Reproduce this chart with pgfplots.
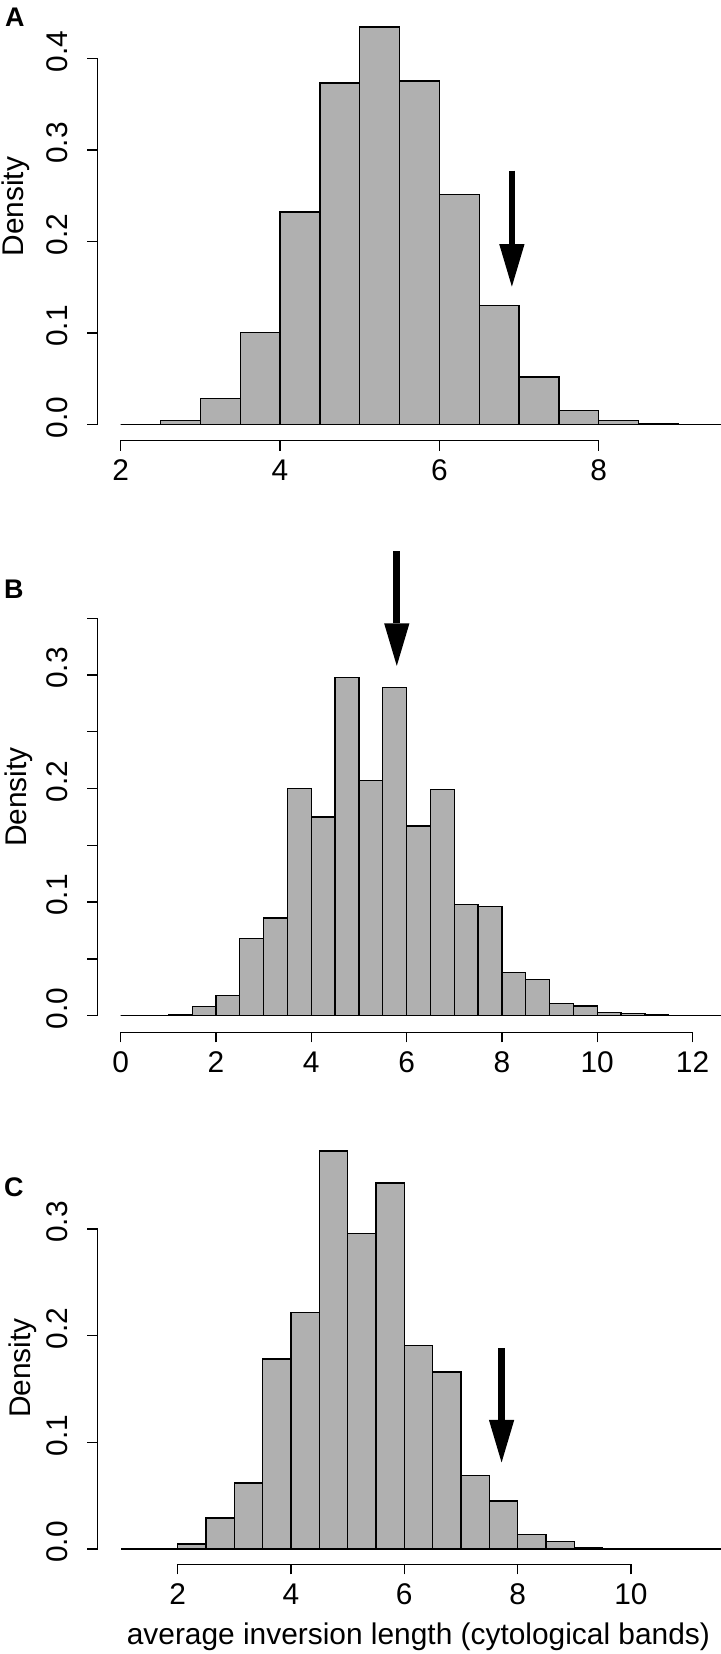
\documentclass[border=0pt]{standalone}
\usepackage{fontspec}
\setmainfont{Liberation Sans}
\usepackage{pgfplots}
\pgfplotsset{compat=1.18}
\usetikzlibrary{arrows.meta}
\definecolor{histgray}{RGB}{176,176,176}

\tikzset{
  arr/.style={line width=6.7bp, -{Triangle[length=42.5bp, width=25.3bp, line width=0pt]}},
  axln/.style={line width=1.3bp, line cap=rect},
}
\pgfplotsset{
  rhist/.style={
    scale only axis, anchor=south west, clip=false,
    axis x line*=bottom, axis y line*=left,
    axis line style={draw=none,-},
    tick align=outside, major tick length=10bp, minor tick length=10bp,
    every tick/.style={black, line width=1.3bp},
    minor tick style={black, line width=1.3bp},
    every tick label/.append style={font=\fontsize{30}{36}\selectfont, inner sep=0pt},
    /pgf/number format/assume math mode=true,
    yticklabel style={rotate=90, anchor=south, xshift=7bp,
      /pgf/number format/fixed, /pgf/number format/fixed zerofill,
      /pgf/number format/precision=1},
    yticklabel shift=19bp,
    xticklabel style={anchor=north},
    xticklabel shift=9bp,
  },
  hbar/.style={ybar interval, fill=histgray, draw=black, line width=1.3bp},
}

\begin{document}
\begin{tikzpicture}
\useasboundingbox (0,0) rectangle (721bp,1654bp);

% panel A
\begin{axis}[rhist, at={(97.3bp,1213.3bp)}, width=623.7bp, height=429.7bp,
  xmin=1.706, xmax=9.535, ymin=-0.01747, ymax=0.4516,
  xtick={2,4,6,8}, ytick={0,0.1,0.2,0.3,0.4}]
\addplot[hbar] coordinates {
  (2,0) (2.5,0.0047) (3,0.0285) (3.5,0.101) (4,0.232) (4.5,0.373)
  (5,0.434) (5.5,0.375) (6,0.251) (6.5,0.130) (7,0.052) (7.5,0.0156)
  (8,0.0043) (8.5,0.001) (9,0) (9.5,0) (10,0)
};
\draw[axln] (axis cs:2,-0.01747) -- (axis cs:8,-0.01747);
\draw[axln] (axis cs:1.706,0) -- (axis cs:1.706,0.4);
\draw[arr] (axis cs:6.91,0.2773) -- (axis cs:6.91,0.1507);
\end{axis}

% panel B
\begin{axis}[rhist, at={(97.3bp,621.7bp)}, width=623.7bp, height=432.3bp,
  xmin=-0.491, xmax=12.598, ymin=-0.01464, ymax=0.366,
  xtick={0,2,4,6,8,10,12}, ytick={0,0.1,0.2,0.3},
  minor ytick={0.05,0.15,0.25,0.35}]
\addplot[hbar] coordinates {
  (0,0) (0.5,0) (1,0.001) (1.5,0.0082) (2,0.018) (2.5,0.068) (3,0.086)
  (3.5,0.200) (4,0.175) (4.5,0.298) (5,0.207) (5.5,0.289) (6,0.167)
  (6.5,0.199) (7,0.098) (7.5,0.096) (8,0.038) (8.5,0.032) (9,0.011)
  (9.5,0.0085) (10,0.0025) (10.5,0.0016) (11,0.0005) (11.5,0) (12,0)
  (12.5,0) (13,0)
};
\draw[axln] (axis cs:0,-0.01464) -- (axis cs:12,-0.01464);
\draw[axln] (axis cs:-0.491,0) -- (axis cs:-0.491,0.35);
\draw[arr] (axis cs:5.794,0.4088) -- (axis cs:5.794,0.308);
\end{axis}

% panel C
\begin{axis}[rhist, at={(97.3bp,89.7bp)}, width=623.7bp, height=424.3bp,
  xmin=0.581, xmax=11.59, ymin=-0.01434, ymax=0.3834,
  xtick={2,4,6,8,10}, ytick={0,0.1,0.2,0.3}]
\addplot[hbar] coordinates {
  (1,0) (1.5,0.0007) (2,0.0048) (2.5,0.029) (3,0.062) (3.5,0.178)
  (4,0.222) (4.5,0.373) (5,0.296) (5.5,0.343) (6,0.191) (6.5,0.166)
  (7,0.069) (7.5,0.045) (8,0.0137) (8.5,0.0072) (9,0.0014) (9.5,0.0005)
  (10,0) (10.5,0) (11,0) (11.5,0) (12,0)
};
\draw[axln] (axis cs:2,-0.01434) -- (axis cs:10,-0.01434);
\draw[axln] (axis cs:0.581,0) -- (axis cs:0.581,0.3);
\draw[arr] (axis cs:7.717,0.1882) -- (axis cs:7.717,0.0811);
\end{axis}

% panel letters and axis titles
\begin{scope}[every node/.style={inner sep=0pt}]
\node[font=\bfseries\fontsize{27}{32}\selectfont, anchor=base west] at (5bp,1627.3bp) {A};
\node[font=\bfseries\fontsize{27}{32}\selectfont, anchor=base west] at (4bp,1055bp) {B};
\node[font=\bfseries\fontsize{27}{32}\selectfont, anchor=base west] at (4bp,457.3bp) {C};
\node[font=\fontsize{30}{36}\selectfont, rotate=90, anchor=base] at (23.3bp,1447.3bp) {Density};
\node[font=\fontsize{30}{36}\selectfont, rotate=90, anchor=base] at (26bp,857bp) {Density};
\node[font=\fontsize{30}{36}\selectfont, rotate=90, anchor=base] at (30bp,286bp) {Density};
\node[font=\fontsize{30}{36}\selectfont, anchor=base] at (418.4bp,9.7bp) {average inversion length (cytological bands)};
\end{scope}
\end{tikzpicture}
\end{document}
